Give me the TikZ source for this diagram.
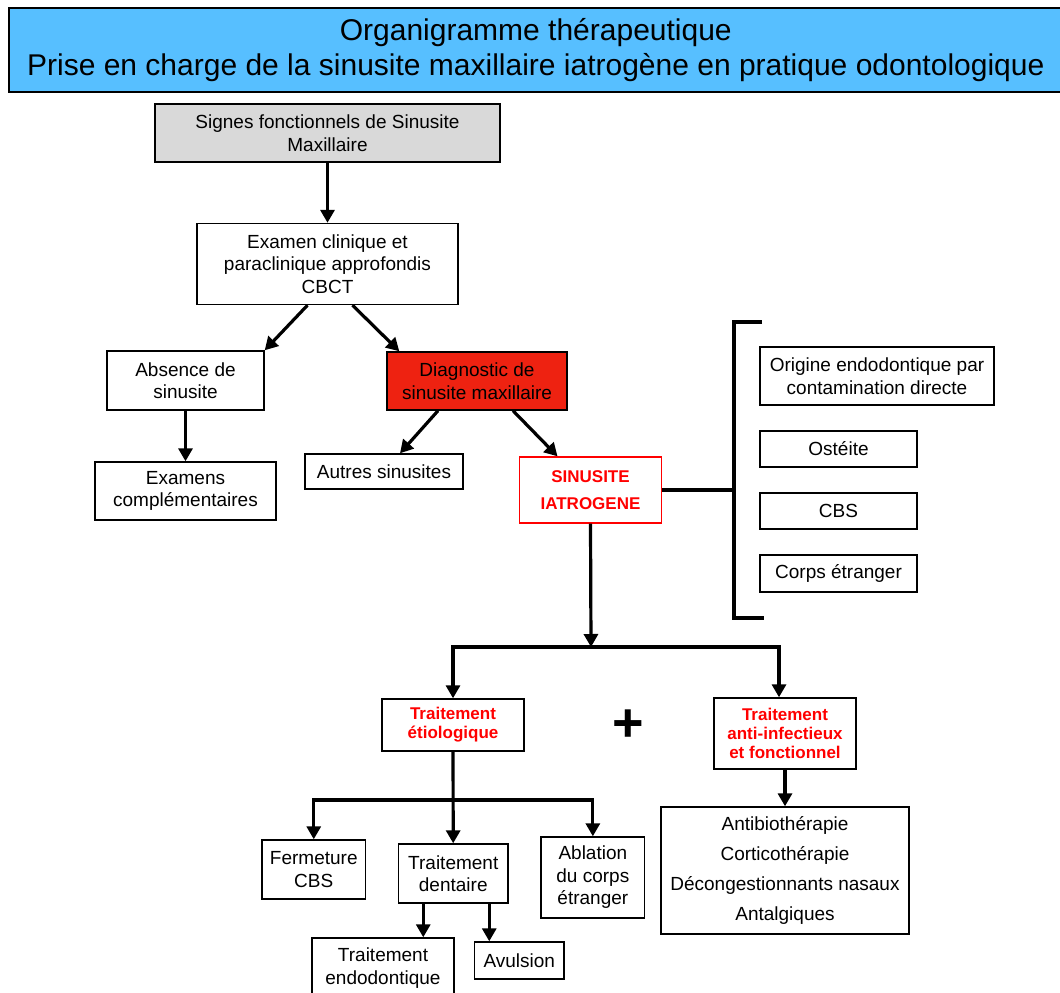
\documentclass[tikz,border=0pt]{standalone}
\usepackage{fontspec}
\setmainfont{Liberation Sans}
\usetikzlibrary{arrows.meta}
\definecolor{bannerblue}{RGB}{87,191,255}
\definecolor{diagred}{RGB}{238,34,17}
\definecolor{boxgray}{RGB}{217,217,217}
\tikzset{
  box/.style={draw,line width=1.4pt,align=center,inner sep=0pt,font=\fontsize{19}{22.5}\selectfont},
  redbox/.style={box,text=red,font=\bfseries\fontsize{17}{19}\selectfont},
  conn/.style={line width=3.2pt},
  flow/.style={conn,-{Triangle[length=13pt,width=14pt]}}}

\begin{document}
\begin{tikzpicture}[x=1pt,y=-1pt]
\useasboundingbox (0,0) rectangle (1060,993);
% titre
\node[draw,line width=1.6pt,fill=bannerblue,minimum width=1054,minimum height=84,
  inner sep=0pt,anchor=north west,align=center,font=\fontsize{30}{35}\selectfont] (titre) at (8,7)
  {Organigramme thérapeutique\\Prise en charge de la sinusite maxillaire iatrogène en pratique odontologique};
% diagnostic
\node[box,fill=boxgray,minimum width=345,minimum height=58] (signes) at (327.5,133) {Signes fonctionnels de Sinusite\\Maxillaire};
\node[box,minimum width=261,minimum height=81] (examen) at (327.5,264) {Examen clinique et\\paraclinique approfondis\\CBCT};
\node[box,minimum width=157,minimum height=59] (absence) at (185.5,380.5) {Absence de\\sinusite};
\node[box,fill=diagred,minimum width=180,minimum height=58] (diag) at (477,381) {Diagnostic de\\sinusite maxillaire};
\node[box,minimum width=181,minimum height=58] (complem) at (185.5,491) {Examens\\complémentaires};
\node[box,minimum width=158,minimum height=35] (autres) at (384,471.5) {Autres sinusites};
\node[redbox,draw=red,minimum width=142,minimum height=66,font=\bfseries\fontsize{17}{27}\selectfont] (sinus) at (590.5,490) {SINUSITE\\IATROGENE};
% origines
\node[box,minimum width=234,minimum height=58] (origine) at (877,376) {Origine endodontique par\\contamination directe};
\node[box,minimum width=157,minimum height=36] (osteite) at (838.5,449) {Ostéite};
\node[box,minimum width=157,minimum height=36] (cbs) at (838.5,511) {CBS};
\node[box,minimum width=157,minimum height=37] (corps) at (838.5,573.5) {Corps étranger};
% traitements
\node[redbox,minimum width=142,minimum height=52] (etio) at (453,725) {Traitement\\étiologique};
\node[inner sep=0pt,font=\bfseries\fontsize{54}{54}\selectfont] (plus) at (628,726) {+};
\node[redbox,minimum width=142,minimum height=71] (anti) at (785,733.5) {Traitement\\anti-infectieux\\et fonctionnel};
\node[box,minimum width=248,minimum height=127,font=\fontsize{19}{30}\selectfont] (medic) at (785,870.5)
  {Antibiothérapie\\Corticothérapie\\Décongestionnants nasaux\\Antalgiques};
\node[box,minimum width=103.5,minimum height=59] (ferm) at (313.75,869.5) {Fermeture\\CBS};
\node[box,minimum width=109.5,minimum height=59] (dent) at (453.25,873.5) {Traitement\\dentaire};
\node[box,minimum width=103.7,minimum height=81] (ablation) at (592.85,877.5) {Ablation\\du corps\\étranger};
\node[box,minimum width=142,minimum height=60] (endo) at (383,968) {Traitement\\endodontique};
\node[box,minimum width=89.4,minimum height=37] (avulsion) at (519.3,960.5) {Avulsion};

% fleches
\draw[flow] (signes) -- (examen);
\draw[flow] ([xshift=-20]examen.south) -- (absence.north east);
\draw[flow] ([xshift=25]examen.south) -- ([xshift=13]diag.north west);
\draw[flow] (absence) -- (complem);
\draw[flow] ([xshift=-39]diag.south) -- ([xshift=16]autres.north);
\draw[flow] ([xshift=36]diag.south) -- ([xshift=-33]sinus.north);
% accolade
\coordinate (brtop) at (762,322);
\coordinate (brl) at (734,322);
\coordinate (brbot) at (764,618);
\draw[conn] (brtop) -- (brl) |- (brbot);
\draw[conn] (sinus.east) -- (sinus.east -| brl);
% vers les traitements
\coordinate (split) at (591,647);
\draw[flow] (sinus.south) -- (split);
\draw[flow] (split) -| (etio.north);
\draw[flow] (split) -| ([xshift=-6]anti.north);
\draw[flow] (anti) -- (medic);
\coordinate (split2) at (453,800);
\draw[flow] (etio) -- (dent);
\draw[flow] (split2) -| (ferm.north);
\draw[flow] (split2) -| (ablation.north);
\draw[flow] ([xshift=-30]dent.south) -- ([xshift=-30]dent.south |- endo.north);
\draw[flow] ([xshift=36]dent.south) -- ([xshift=36]dent.south |- avulsion.north);
\end{tikzpicture}
\end{document}
